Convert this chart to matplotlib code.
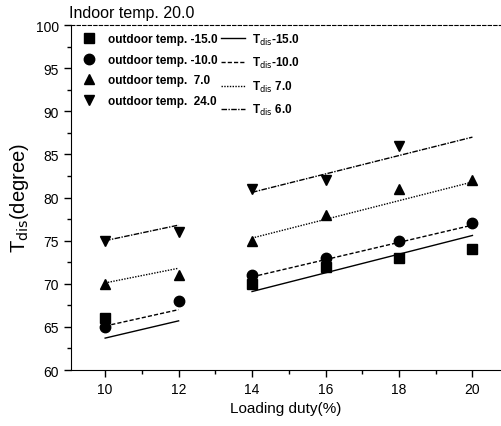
import matplotlib.pyplot as plt
from matplotlib.ticker import MultipleLocator
from matplotlib.lines import Line2D

plt.rcParams['font.family'] = ['Liberation Sans', 'DejaVu Sans']

# measured points
duty = [10, 12, 14, 16, 18, 20]
t_m15 = [66, None, 70, 72, 73, 74]
t_m10 = [65, 68, 71, 73, 75, 77]
t_p7 = [70, 71, 75, 78, 81, 82]
t_p24 = [75, 76, 81, 82, 86, None]

# fitted lines, two segments each
seg1_x = [10, 12]
seg2_x = [14, 20]
fit_m15 = ([63.7, 65.7], [69.1, 75.6])
fit_m10 = ([65.1, 67.0], [70.8, 76.8])
fit_p7 = ([70.1, 71.8], [75.3, 81.8])
fit_p24 = ([75.0, 76.8], [80.6, 87.0])

series = [
    (t_m15, fit_m15, 's', '-', '-15.0', '-15.0'),
    (t_m10, fit_m10, 'o', (0, (3, 1.5)), '-10.0', '-10.0'),
    (t_p7, fit_p7, '^', (0, (1, 1)), ' 7.0', ' 7.0'),
    (t_p24, fit_p24, 'v', (0, (4, 1, 1, 1)), ' 24.0', ' 6.0'),
]

fig = plt.figure(figsize=(5.01, 4.27), dpi=100)
ax = fig.add_axes([0.1417, 0.1311, 0.857, 0.808])

marker_handles = []
line_handles = []
for vals, fit, mk, ls, lab, tlab in series:
    xs = [x for x, v in zip(duty, vals) if v is not None]
    ys = [v for v in vals if v is not None]
    ax.plot(xs, ys, linestyle='none', marker=mk, color='black', markersize=7.5)
    ax.plot(seg1_x, fit[0], color='black', linestyle=ls, linewidth=1)
    ax.plot(seg2_x, fit[1], color='black', linestyle=ls, linewidth=1)
    marker_handles.append(Line2D([], [], linestyle='none', marker=mk, color='black',
                                 markersize=7.5, label='outdoor temp. ' + lab))
    line_handles.append(Line2D([], [], linestyle=ls, color='black', linewidth=1,
                               label='T$_{\\rm dis}$' + tlab))

ax.set_xlim(9.07, 20.76)
ax.set_ylim(60, 100)
ax.xaxis.set_major_locator(MultipleLocator(2))
ax.xaxis.set_minor_locator(MultipleLocator(1))
ax.yaxis.set_major_locator(MultipleLocator(5))
ax.yaxis.set_minor_locator(MultipleLocator(2.5))
ax.tick_params(which='major', direction='out', length=5, width=1, labelsize=10)
ax.tick_params(which='minor', direction='out', length=3, width=1)
ax.spines['right'].set_visible(False)
ax.spines['top'].set_linewidth(0.8)
ax.spines['top'].set_linestyle((0, (3, 2)))

ax.set_xlabel('Loading duty(%)', fontsize=11)
ax.set_ylabel('T$_{\\rm dis}$(degree)', fontsize=14.5)
ax.set_title('Indoor temp. 20.0', loc='left', fontsize=11.5, pad=6, x=-0.005)

ax.legend(handles=marker_handles + line_handles, ncol=2, loc='upper left',
          bbox_to_anchor=(0.0, 1.0), frameon=False,
          handlelength=2.0, handletextpad=0.6, columnspacing=0.3,
          labelspacing=0.72, borderaxespad=0.15,
          prop={'weight': 'bold', 'size': 8.5})

fig.savefig('out.png', dpi=100)
